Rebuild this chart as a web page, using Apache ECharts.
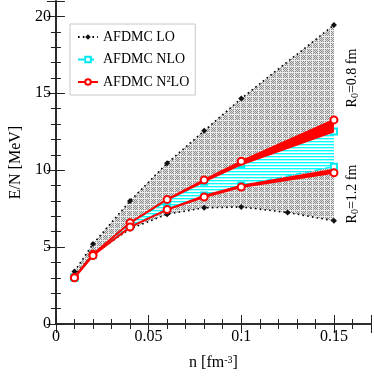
<!DOCTYPE html>
<html><head><meta charset="utf-8">
<script src="https://cdn.jsdelivr.net/npm/echarts@6/dist/echarts.min.js"></script>
<style>html,body{margin:0;padding:0;background:#fff}#c{width:374px;height:376px}</style>
</head><body><div id="c"></div>
<script>
// ---- data ----
const nLOupper = [0.01, 0.02, 0.04, 0.06, 0.08, 0.10, 0.15];
const eLOupper = [3.42, 5.2, 8.0, 10.45, 12.56, 14.66, 19.44];
const nLOlower = [0.01, 0.02, 0.04, 0.06, 0.08, 0.10, 0.125, 0.15];
const eLOlower = [3.14, 4.54, 6.19, 7.14, 7.55, 7.61, 7.25, 6.71];
const nNLO = [0.01, 0.02, 0.04, 0.06, 0.08, 0.10, 0.15];
const eNLO08 = [3.03, 4.52, 6.55, 8.0, 9.25, 10.4, 12.52];
const eNLO12 = [3.02, 4.48, 6.35, 7.5, 8.35, 9.0, 10.23];
const nN2LO = [0.01, 0.02, 0.04, 0.06, 0.08, 0.10, 0.15];
const eN2LO08 = [3.03, 4.54, 6.58, 8.1, 9.37, 10.58, 13.27];
const eN2LO12 = [3.0, 4.45, 6.3, 7.44, 8.26, 8.9, 9.83];
const nBand = [0.06, 0.08, 0.10, 0.15];
const band08hi = [8.1, 9.37, 10.58, 13.27];
const band08lo = [8.02, 9.2, 10.3, 12.45];
const band12hi = [7.5, 8.4, 9.05, 10.1];
const band12lo = [7.44, 8.26, 8.9, 9.83];
const xTicks = [0, 0.05, 0.1, 0.15];
const yTicks = [0, 5, 10, 15, 20];

const FONT = 'Liberation Serif';
const zip = (xs, ys) => xs.map((x, i) => [x, ys[i]]);

function makePattern(w, h, fn) {
  const c = document.createElement('canvas'); c.width = w; c.height = h;
  const g = c.getContext('2d');
  for (let j = 0; j < h; j++) for (let i = 0; i < w; i++) { g.fillStyle = fn(i, j); g.fillRect(i, j, 1, 1); }
  return { image: c, repeat: 'repeat' };
}
const grayPat = makePattern(6, 6, (i, j) => (i === 0 || j === 0) ? '#ececec' : ((i + j) % 2 === 0 ? '#8c8c8c' : '#e0e0e0'));
const cyanPat = makePattern(4, 3, (i, j) => j === 0 ? '#00ffff' : (j === 1 ? '#a8ffff' : '#ffffff'));

function polySeries(xt, yt, xb, yb, fill, z) {
  const pts = zip(xt, yt).concat(zip(xb, yb).reverse());
  return {
    type: 'custom', data: pts, z: z, silent: true, clip: false,
    renderItem: (params, api) => {
      if (params.dataIndex !== 0) return;
      return { type: 'polygon', shape: { points: pts.map(p => api.coord(p)) }, style: { fill: fill } };
    }
  };
}

const frame = '#222';
function xAx(pos, interval, major) {
  return {
    type: 'value', position: pos, min: 0, max: 0.17, interval: interval,
    axisLine: { show: major, lineStyle: { color: frame, width: 1.6 } },
    axisTick: { show: true, inside: true, length: major ? 9 : 5, lineStyle: { color: frame, width: 1 } },
    axisLabel: (pos === 'bottom' && major) ? {
      show: true, margin: 5, color: '#000', fontFamily: FONT, fontSize: 16,
      formatter: v => xTicks.some(t => Math.abs(t - v) < 1e-9) ? String(+v.toFixed(2)) : ''
    } : { show: false },
    splitLine: { show: false },
    name: (pos === 'bottom' && major) ? 'n [fm{sup|-3}]' : '',
    nameLocation: 'middle', nameGap: 31,
    nameTextStyle: { fontFamily: FONT, fontSize: 16, color: '#000',
      rich: { sup: { fontFamily: FONT, fontSize: 10, verticalAlign: 'top', lineHeight: 10, color: '#000' } } }
  };
}
function yAx(pos, interval, major) {
  return {
    type: 'value', position: pos, min: 0, max: 21, interval: interval,
    axisLine: { show: major, lineStyle: { color: frame, width: 1.6 } },
    axisTick: { show: true, inside: true, length: major ? 9 : 5, lineStyle: { color: frame, width: 1 } },
    axisLabel: (pos === 'left' && major) ? {
      show: true, margin: 5, color: '#000', fontFamily: FONT, fontSize: 16,
      formatter: v => yTicks.indexOf(v) >= 0 ? String(v) : ''
    } : { show: false },
    splitLine: { show: false },
    name: (pos === 'left' && major) ? 'E/N [MeV]' : '',
    nameLocation: 'middle', nameGap: 27,
    nameTextStyle: { fontFamily: FONT, fontSize: 16, color: '#000' }
  };
}

const red = '#ff0000', cyan = '#00e8f0';
const option = {
  animation: false,
  backgroundColor: '#fff',
  grid: { left: 48, right: 2, top: 1, bottom: 50 },
  xAxis: [xAx('bottom', 0.05, true), xAx('bottom', 0.01, false), xAx('top', 0.05, true), xAx('top', 0.01, false)],
  yAxis: [yAx('left', 5, true), yAx('left', 1, false), yAx('right', 5, true), yAx('right', 1, false)],
  legend: {
    left: 70, top: 24, orient: 'vertical', selectedMode: false,
    padding: [6, 6, 6, 7], itemGap: 8.5, itemWidth: 20, itemHeight: 7, itemTextGap: 7,
    borderColor: '#c8c8c8', borderWidth: 1, backgroundColor: '#fff',
    textStyle: { fontFamily: FONT, fontSize: 14, color: '#000' },
    data: ['AFDMC LO', 'AFDMC NLO', 'AFDMC N²LO']
  },
  graphic: [
    { type: 'text', x: 352, y: 78, rotation: Math.PI / 2,
      style: { text: '{a|R}{s|0}{a|=0.8 fm}', align: 'center', verticalAlign: 'middle',
        rich: { a: { fontFamily: FONT, fontSize: 14, fill: '#000', lineHeight: 16 }, s: { fontFamily: FONT, fontSize: 10, fill: '#000', verticalAlign: 'bottom', lineHeight: 12 } } } },
    { type: 'text', x: 352, y: 194, rotation: Math.PI / 2,
      style: { text: '{a|R}{s|0}{a|=1.2 fm}', align: 'center', verticalAlign: 'middle',
        rich: { a: { fontFamily: FONT, fontSize: 14, fill: '#000', lineHeight: 16 }, s: { fontFamily: FONT, fontSize: 10, fill: '#000', verticalAlign: 'bottom', lineHeight: 12 } } } }
  ],
  series: [
    polySeries(nLOupper, eLOupper, nLOlower, eLOlower, grayPat, 1),
    { name: 'AFDMC LO', type: 'line', z: 2, data: zip(nLOupper, eLOupper), symbol: 'diamond', symbolSize: 6,
      lineStyle: { color: '#000', width: 1.6, type: [1.6, 3.2] }, itemStyle: { color: '#111' } },
    { name: 'AFDMC LO', type: 'line', z: 2, data: zip(nLOlower, eLOlower), symbol: 'diamond', symbolSize: 6,
      lineStyle: { color: '#000', width: 1.6, type: [1.6, 3.2] }, itemStyle: { color: '#111' } },
    polySeries(nNLO, eNLO08, nNLO, eNLO12, cyanPat, 3),
    { name: 'AFDMC NLO', type: 'line', z: 4, data: zip(nNLO, eNLO08), symbol: 'emptyRect', symbolSize: 6,
      lineStyle: { color: cyan, width: 1.5, type: [6, 4] }, itemStyle: { color: cyan, borderWidth: 1.3 } },
    { name: 'AFDMC NLO', type: 'line', z: 4, data: zip(nNLO, eNLO12), symbol: 'emptyRect', symbolSize: 6,
      lineStyle: { color: cyan, width: 1.5, type: [6, 4] }, itemStyle: { color: cyan, borderWidth: 1.3 } },
    polySeries(nBand, band08hi, nBand, band08lo, red, 5),
    polySeries(nBand, band12hi, nBand, band12lo, red, 5),
    { name: 'AFDMC N²LO', type: 'line', z: 6, data: zip(nN2LO, eN2LO08), symbol: 'emptyCircle', symbolSize: 7,
      lineStyle: { color: red, width: 2 }, itemStyle: { color: red, borderWidth: 1.4 } },
    { name: 'AFDMC N²LO', type: 'line', z: 6, data: zip(nN2LO, eN2LO12), symbol: 'emptyCircle', symbolSize: 7,
      lineStyle: { color: red, width: 2 }, itemStyle: { color: red, borderWidth: 1.4 } }
  ]
};
const chart = echarts.init(document.getElementById('c'), null, { renderer: 'canvas' });
chart.setOption(option);
</script></body></html>
